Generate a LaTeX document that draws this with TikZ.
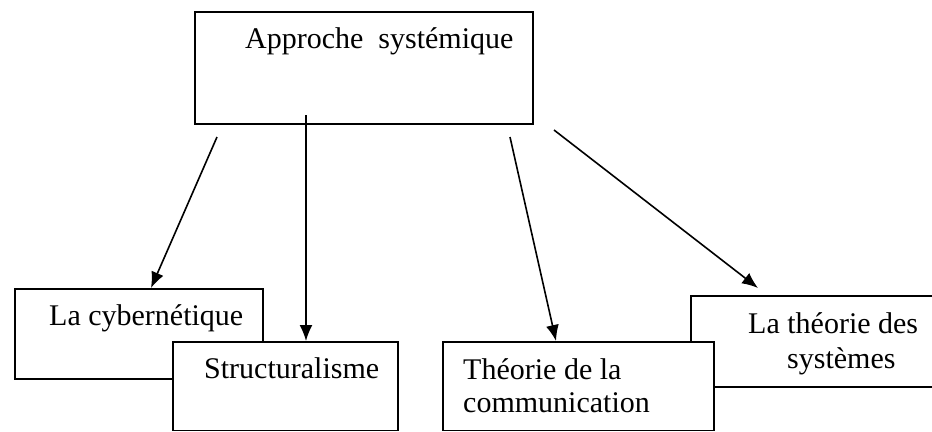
\documentclass[tikz,border=0pt]{standalone}
\usepackage{fontspec}
\setmainfont{Liberation Serif}
\usetikzlibrary{arrows.meta,calc}
\begin{document}
\begin{tikzpicture}[x=1bp,y=-1bp,
  box/.style={draw=black,line width=1.6bp,fill=white,inner sep=0pt,anchor=north west},
  lbl/.style={anchor=base west,inner sep=0pt,font=\fontsize{30bp}{34bp}\selectfont},
  arr/.style={draw=black,line width=1.6bp,-{Latex[length=16bp,width=13bp]}}]
\useasboundingbox[fill=white] (0,0) rectangle (932,431);
% top box
\node[box,minimum width=338bp,minimum height=112bp] (top) at (194,11) {};
\node[lbl] (ttop) at (245,48) {Approche\ \ systémique};
% bottom boxes
\node[box,minimum width=248bp,minimum height=90bp] (cyb) at (14,288) {};
\node[lbl] (tcyb) at (49,325) {La cybernétique};
\node[box,minimum width=225bp,minimum height=88.5bp] (str) at (172,341) {};
\node[lbl] (tstr) at (204,378) {Structuralisme};
\node[box,minimum width=250bp,minimum height=91bp] (sys) at (690,295) {};
\node[lbl] (tsys1) at (748,333) {La théorie des};
\node[lbl] (tsys2) at (787,368) {systèmes};
\node[box,minimum width=271bp,minimum height=88.5bp] (com) at (442,341) {};
\node[lbl] (tcom1) at (463,379) {Théorie de la};
\node[lbl] (tcom2) at (463,412) {communication};
% arrow start points
\coordinate (s1) at (217,137);
\coordinate (s2) at (306,115);
\coordinate (s3) at (510,137);
\coordinate (s4) at (554,130);
% connectors
\draw[arr] (s1) -- ($(cyb.north west)+(137,0)$);
\draw[arr] (s2) -- (s2 |- str.north);
\draw[arr] (s3) -- ($(com.north west)+(114,0)$);
\draw[arr] (s4) -- ($(sys.north west)+(68,-7)$);
\end{tikzpicture}
\end{document}
